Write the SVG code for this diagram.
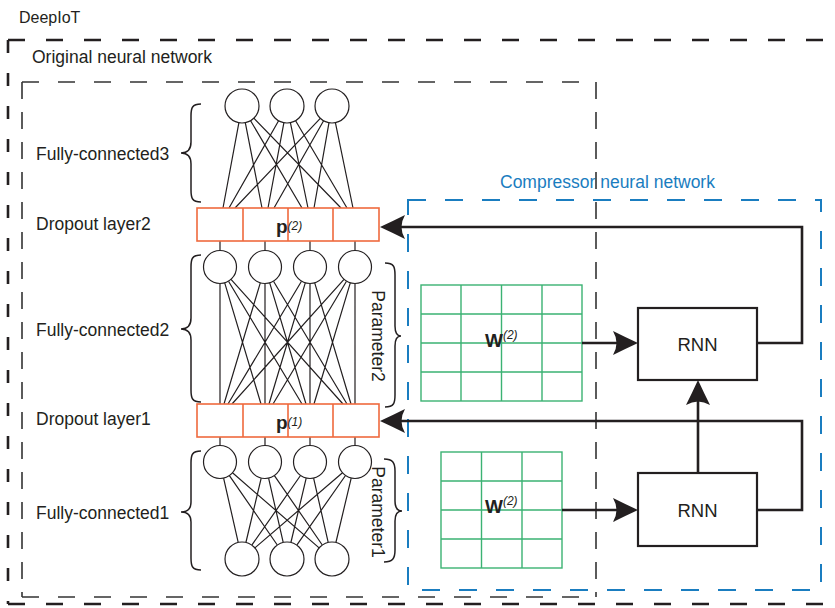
<svg xmlns="http://www.w3.org/2000/svg" width="835" height="608" viewBox="0 0 835 608">
<style>
text{font-family:"Liberation Sans",Arial,sans-serif;fill:#231f20}
.lbl{font-size:17.5px}
.blue{fill:#1a7dc0}
.nn{fill:#fff;stroke:#231f20;stroke-width:1.2}
.ln{stroke:#231f20;stroke-width:1.2;fill:none}
.brace{stroke:#231f20;stroke-width:1.5;fill:none}
.drop{fill:#fff;stroke:#ef6a3e;stroke-width:1.6}
.dropl{stroke:#ef6a3e;stroke-width:1.6}
.grid{fill:#fff;stroke:#3bb273;stroke-width:1.4}
.gridl{stroke:#3bb273;stroke-width:1.4}
.rnn{fill:#fff;stroke:#231f20;stroke-width:2.2}
.conn{stroke:#231f20;stroke-width:2.6;fill:none}
.outer{fill:none;stroke:#231f20;stroke-width:2.6}
.inner{fill:none;stroke:#333;stroke-width:1.6}
.b{font-weight:bold}
.sup{font-style:italic;font-size:12px}
</style>
<defs>
<marker id="ah" viewBox="0 0 25 24" refX="17" refY="12" markerWidth="25" markerHeight="24" markerUnits="userSpaceOnUse" orient="auto">
<path d="M25,12 Q12,6 0,0 Q7,12 0,24 Q12,18 25,12 Z" fill="#231f20"/>
</marker>
</defs>

<g id="deepiot">
<path class="outer" d="M8,40H900M8,604H900" stroke-dasharray="17 21"/>
<path class="outer" d="M8,40V604" stroke-dasharray="13 20"/>
<text x="19" y="23" font-size="16">DeepIoT</text>
</g>

<g id="original">
<path class="inner" d="M22,82H596M22,597H596" stroke-dasharray="17 19"/>
<path class="inner" d="M22,82V597M596,82V597" stroke-dasharray="17 13"/>
<text class="lbl" x="32" y="63">Original neural network</text>
</g>

<g id="compressor">
<rect x="408" y="200" width="413" height="390" fill="none" stroke="#1a7dc0" stroke-width="2" stroke-dasharray="18 19"/>
<text class="lbl blue" x="500" y="188">Compressor neural network</text>
</g>

<g id="labels">
<text class="lbl" x="36" y="160">Fully-connected3</text>
<text class="lbl" x="36" y="230">Dropout layer2</text>
<text class="lbl" x="36" y="336">Fully-connected2</text>
<text class="lbl" x="36" y="425">Dropout layer1</text>
<text class="lbl" x="36" y="519">Fully-connected1</text>
</g>

<g id="braces">
<path class="brace" d="M201,104 C192,104 191,108 191,116 L191,142 C191,149 188,153 181,153 C188,153 191,157 191,164 L191,190 C191,198 192,202 201,202"/>
<path class="brace" d="M201,255 C192,255 191,259 191,267 L191,318 C191,325 188,329 181,329 C188,329 191,333 191,340 L191,390 C191,398 192,402 201,402"/>
<path class="brace" d="M201,451 C192,451 191,455 191,463 L191,502 C191,509 188,512 181,512 C188,512 191,515 191,522 L191,558 C191,566 192,570 201,570"/>
<path class="brace" d="M385,263 C394,263 395,267 395,275 L395,326 C395,333 397,336 401,336 C397,336 395,339 395,346 L395,395 C395,403 394,407 385,407"/>
<path class="brace" d="M384,459 C393,459 395,463 395,471 L395,501 C395,508 397,511 402,511 C397,511 395,514 395,521 L395,550 C395,558 393,562 384,562"/>
<text class="lbl" transform="translate(372,336) rotate(90)" text-anchor="middle">Parameter2</text>
<text class="lbl" transform="translate(372,512) rotate(90)" text-anchor="middle">Parameter1</text>
</g>

<g id="fc3-lines">
<path class="ln" d="M238.9,122.7L223,208M245.3,122.7L262,208M250.6,120.7L302,208M253.8,118.2L341,208
M278.6,120.8L229,208M283.9,122.7L268,208M290.4,122.7L308,208M295.6,120.7L347,208
M320.3,118.3L235,208M323.6,120.8L274,208M329,122.7L314,208M335.4,122.7L353,208"/>
</g>
<g id="fc2-lines">
<path class="ln" d="M220,283.5L220,404M265,283.5L265,404M310,283.5L310,404M355,283.5L355,404
M224.7,282.8L261,404M228.5,281.2L302,404M231,279.3L343,404
M260.3,282.8L224,404M269.7,282.8L306,404M273.5,281.2L347,404
M301.5,281.2L228,404M305.3,282.8L269,404M314.7,282.8L351,404
M344,279.3L232,404M346.5,281.2L273,404M350.3,282.8L314,404"/>
</g>
<g id="fc1-lines">
<path class="ln" d="M223.6,478.1L238.2,542.4M229.4,475.6L277.3,545M232.5,472.8L319.1,547.9
M261.2,478.1L245.9,542.5M268.6,478.1L283.2,542.4M274.4,475.6L322.3,545
M300.5,475.5L251.8,545.1M306.2,478.1L290.9,542.5M313.6,478.1L328.2,542.4
M342.5,472.7L254.9,547.9M345.5,475.5L296.8,545.1M351.2,478.1L335.9,542.5"/>
</g>
<g id="stubs">
<path class="ln" d="M220,241V251M265,241V251M310,241V251M355,241V251M220,437V446M265,437V446M310,437V446M355,437V446"/>
</g>

<g id="layer-out">
<circle class="nn" cx="242" cy="106" r="17"/>
<circle class="nn" cx="287" cy="106" r="17"/>
<circle class="nn" cx="332" cy="106" r="17"/>
</g>
<g id="layer-h2">
<circle class="nn" cx="220" cy="267" r="16.5"/>
<circle class="nn" cx="265" cy="267" r="16.5"/>
<circle class="nn" cx="310" cy="267" r="16.5"/>
<circle class="nn" cx="355" cy="267" r="16.5"/>
</g>
<g id="layer-h1">
<circle class="nn" cx="220" cy="462" r="16.5"/>
<circle class="nn" cx="265" cy="462" r="16.5"/>
<circle class="nn" cx="310" cy="462" r="16.5"/>
<circle class="nn" cx="355" cy="462" r="16.5"/>
</g>
<g id="layer-in">
<circle class="nn" cx="242" cy="559" r="17"/>
<circle class="nn" cx="287" cy="559" r="17"/>
<circle class="nn" cx="332" cy="559" r="17"/>
</g>

<g id="dropout2">
<rect class="drop" x="197" y="208" width="182" height="33"/>
<path class="dropl" d="M243,208V241M288,208V241M333,208V241"/>
<text x="276" y="233" font-size="19"><tspan class="b">p</tspan><tspan class="sup" dy="-3">(2)</tspan></text>
</g>
<g id="dropout1">
<rect class="drop" x="197" y="404" width="182" height="33"/>
<path class="dropl" d="M243,404V437M288,404V437M333,404V437"/>
<text x="276" y="429" font-size="19"><tspan class="b">p</tspan><tspan class="sup" dy="-3">(1)</tspan></text>
</g>

<g id="w2-grid-top">
<rect class="grid" x="421" y="285" width="161" height="116"/>
<path class="gridl" d="M461,285V401M501.5,285V401M542,285V401M421,314H582M421,343H582M421,372H582"/>
<text x="485" y="347" font-size="19"><tspan class="b">W</tspan><tspan class="sup" dy="-8">(2)</tspan></text>
</g>
<g id="w2-grid-bottom">
<rect class="grid" x="441" y="452" width="121" height="116"/>
<path class="gridl" d="M481.5,452V568M522,452V568M441,481H562M441,510H562M441,539H562"/>
<text x="485" y="513" font-size="19"><tspan class="b">W</tspan><tspan class="sup" dy="-8">(2)</tspan></text>
</g>

<g id="rnn-top">
<rect class="rnn" x="638" y="308" width="119" height="72"/>
<text x="697.5" y="351" font-size="18.5" text-anchor="middle">RNN</text>
</g>
<g id="rnn-bottom">
<rect class="rnn" x="638" y="473" width="119" height="73"/>
<text x="697.5" y="517" font-size="18.5" text-anchor="middle">RNN</text>
</g>

<g id="connectors">
<path class="conn" d="M582,343H630" marker-end="url(#ah)"/>
<path class="conn" d="M562,510H630" marker-end="url(#ah)"/>
<path class="conn" d="M757,343H802V227H388" marker-end="url(#ah)"/>
<path class="conn" d="M757,510H802V421H388" marker-end="url(#ah)"/>
<path class="conn" d="M698,473V388" marker-end="url(#ah)"/>
</g>
</svg>
